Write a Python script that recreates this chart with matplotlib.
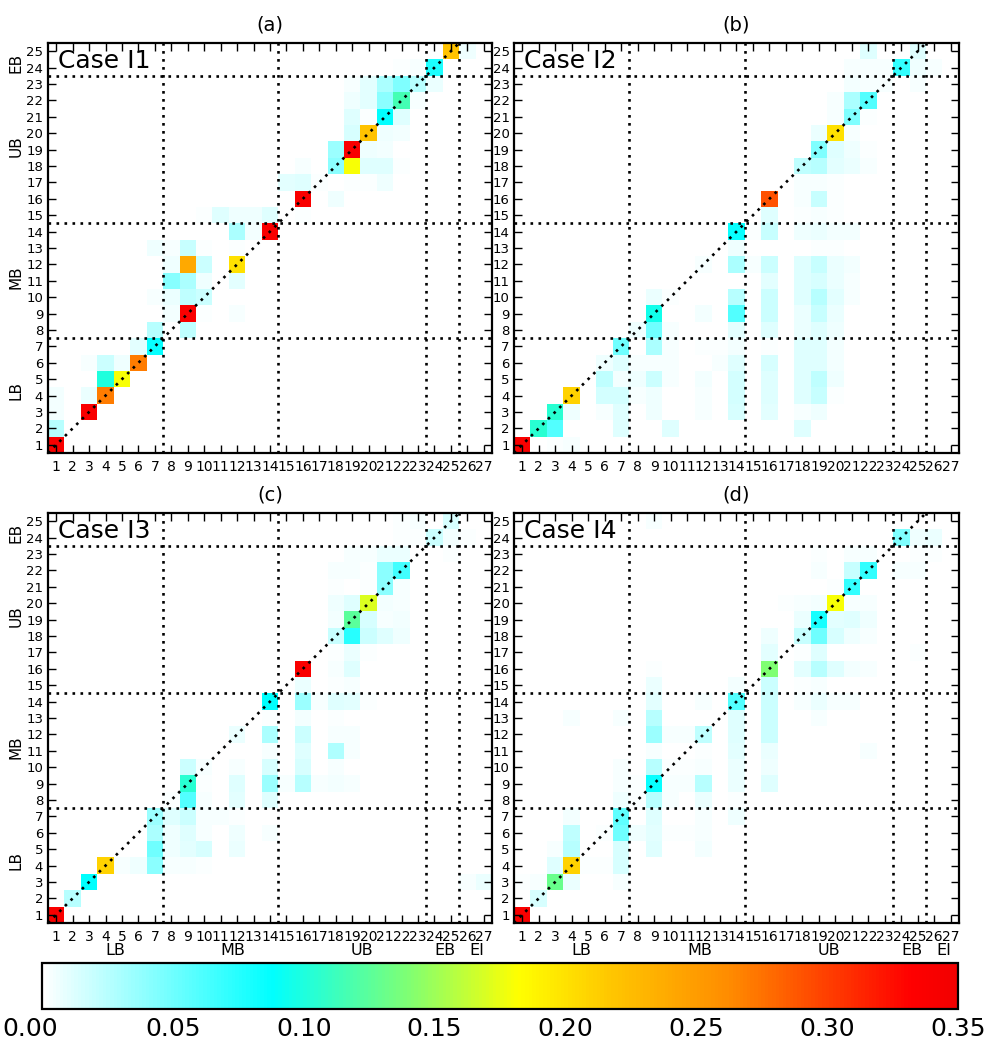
import numpy as np
import matplotlib
matplotlib.use('Agg')
import matplotlib.pyplot as plt
from matplotlib.colors import LinearSegmentedColormap
from matplotlib.transforms import ScaledTranslation

# (row, column, value) for the non zero cells, everything else is 0
case1_cells = [
    (25,25,.22),(25,26,.006),
    (24,22,.002),(24,23,.004),(24,24,.078),
    (23,19,.003),(23,20,.01),(23,21,.03),(23,22,.045),(23,23,.025),(23,24,.007),
    (22,19,.006),(22,20,.01),(22,21,.04),(22,22,.115),(22,23,.003),
    (21,19,.012),(21,20,.002),(21,21,.088),(21,22,.012),
    (20,19,.015),(20,20,.22),(20,21,.006),(20,22,.005),
    (19,18,.035),(19,19,.34),(19,20,.006),(19,21,.005),(19,22,.001),
    (18,16,.003),(18,18,.04),(18,19,.18),(18,20,.012),(18,21,.012),(18,22,.002),
    (17,15,.01),(17,16,.012),(17,17,.002),(17,19,.002),(17,20,.002),(17,21,.006),(17,22,.001),
    (16,16,.34),(16,18,.006),
    (15,10,.002),(15,11,.012),(15,12,.006),(15,13,.006),(15,14,.012),(15,16,.002),
    (14,12,.03),(14,13,.005),(14,14,.34),
    (13,7,.006),(13,8,.004),(13,9,.02),(13,10,.002),(13,12,.002),
    (12,8,.006),(12,9,.24),(12,10,.018),(12,12,.2),
    (11,8,.042),(11,9,.03),(11,10,.006),(11,12,.01),
    (10,7,.003),(10,8,.008),(10,9,.022),(10,10,.018),
    (9,7,.001),(9,8,.005),(9,9,.34),(9,10,.002),(9,12,.004),
    (8,7,.025),(8,8,.001),(8,9,.022),
    (7,6,.01),(7,7,.085),
    (6,2,.001),(6,3,.004),(6,4,.018),(6,5,.006),(6,6,.27),
    (5,3,.001),(5,4,.1),(5,5,.18),
    (4,1,.005),(4,3,.008),(4,4,.27),
    (3,1,.005),(3,3,.34),
    (2,1,.025),
    (1,1,.34),
]

case2_cells = [
    (25,22,.012),(25,25,.012),
    (24,21,.003),(24,22,.003),(24,23,.003),(24,24,.07),(24,25,.006),(24,26,.004),
    (23,21,.005),(23,22,.004),(23,23,.003),(23,25,.003),
    (22,20,.003),(22,21,.03),(22,22,.06),
    (21,20,.004),(21,21,.045),(21,22,.002),
    (20,19,.008),(20,20,.2),(20,21,.004),
    (19,19,.045),(19,20,.012),(19,21,.006),(19,22,.002),
    (18,18,.022),(18,19,.025),(18,20,.01),(18,21,.008),(18,22,.003),
    (17,18,.003),(17,19,.004),(17,20,.002),
    (16,16,.29),(16,18,.004),(16,19,.02),(16,20,.002),(16,21,.001),
    (15,16,.012),(15,18,.002),(15,19,.003),(15,20,.002),(15,21,.001),
    (14,14,.085),(14,15,.002),(14,16,.02),(14,18,.006),(14,19,.007),(14,20,.005),(14,21,.005),
    (13,12,.001),(13,14,.006),(13,19,.002),(13,20,.002),
    (12,12,.003),(12,14,.03),(12,15,.003),(12,16,.018),(12,18,.012),(12,19,.02),(12,20,.008),(12,21,.005),
    (11,12,.001),(11,14,.001),(11,16,.01),(11,18,.012),(11,19,.014),(11,20,.007),(11,21,.004),
    (10,9,.008),(10,10,.002),(10,14,.025),(10,16,.018),(10,18,.012),(10,19,.025),(10,20,.01),(10,21,.003),
    (9,9,.095),(9,12,.005),(9,14,.06),(9,16,.018),(9,18,.008),(9,19,.02),(9,20,.008),
    (8,8,.006),(8,9,.05),(8,10,.004),(8,14,.01),(8,16,.012),(8,18,.008),(8,19,.012),(8,20,.006),
    (7,7,.05),(7,9,.03),(7,10,.004),(7,12,.002),(7,13,.002),(7,14,.005),(7,16,.002),(7,18,.012),(7,19,.012),(7,20,.005),
    (6,6,.006),(6,7,.012),(6,8,.003),(6,9,.004),(6,10,.003),(6,13,.003),(6,14,.012),(6,16,.015),(6,18,.012),(6,19,.012),(6,20,.005),
    (5,6,.022),(5,7,.005),(5,8,.006),(5,9,.018),(5,10,.003),(5,12,.005),(5,14,.016),(5,16,.012),(5,18,.012),(5,19,.022),(5,20,.006),
    (4,4,.21),(4,6,.016),(4,7,.016),(4,8,.003),(4,9,.006),(4,12,.004),(4,14,.016),(4,16,.012),(4,18,.012),(4,19,.02),(4,20,.002),
    (3,3,.105),(3,4,.006),(3,6,.003),(3,7,.012),(3,9,.006),(3,12,.003),(3,14,.015),(3,16,.01),(3,18,.004),(3,19,.006),
    (2,2,.105),(2,3,.06),(2,4,.001),(2,7,.012),(2,10,.012),(2,18,.012),
    (1,1,.34),(1,2,.001),(1,3,.002),(1,4,.003),(1,5,.001),(1,7,.001),(1,8,.001),(1,9,.001),
]

case3_cells = [
    (25,22,.002),(25,23,.003),(25,25,.015),
    (24,22,.002),(24,23,.002),(24,24,.018),(24,25,.005),(24,26,.002),
    (23,19,.003),(23,20,.003),(23,21,.008),(23,22,.008),(23,25,.002),
    (22,18,.003),(22,19,.003),(22,20,.002),(22,21,.04),(22,22,.065),
    (21,18,.002),(21,20,.002),(21,21,.04),(21,22,.004),
    (20,18,.006),(20,19,.012),(20,20,.17),(20,21,.005),(20,22,.003),
    (19,18,.005),(19,19,.125),(19,20,.015),(19,21,.004),(19,22,.005),
    (18,18,.02),(18,19,.075),(18,20,.018),(18,21,.012),(18,22,.006),
    (17,18,.002),(17,19,.008),(17,20,.002),(17,21,.001),
    (16,16,.34),(16,18,.004),(16,19,.012),
    (15,16,.008),(15,18,.002),(15,19,.003),
    (14,14,.088),(14,16,.035),(14,17,.004),(14,18,.012),(14,19,.01),(14,20,.002),
    (13,14,.002),(13,16,.005),(13,18,.002),
    (12,12,.008),(12,14,.03),(12,16,.018),(12,18,.004),(12,19,.003),
    (11,14,.003),(11,16,.012),(11,18,.028),(11,19,.003),
    (10,9,.018),(10,10,.004),(10,12,.004),(10,14,.014),(10,16,.015),(10,18,.004),
    (9,9,.105),(9,10,.002),(9,12,.012),(9,14,.035),(9,15,.004),(9,16,.025),(9,17,.004),(9,18,.005),(9,19,.003),
    (8,8,.002),(8,9,.06),(8,10,.003),(8,12,.01),(8,14,.012),
    (7,7,.035),(7,8,.012),(7,9,.018),(7,10,.003),(7,11,.003),(7,12,.002),
    (6,7,.03),(6,8,.006),(6,9,.012),(6,10,.004),(6,12,.006),(6,14,.004),
    (5,7,.05),(5,8,.006),(5,9,.01),(5,10,.015),(5,12,.008),
    (4,4,.21),(4,5,.004),(4,6,.006),(4,7,.04),(4,8,.004),(4,9,.003),(4,10,.002),
    (3,3,.088),(3,26,.004),(3,27,.008),
    (2,2,.025),
    (1,1,.34),
]

case4_cells = [
    (25,9,.003),
    (24,16,.001),(24,17,.001),(24,18,.001),(24,19,.001),(24,24,.045),(24,25,.006),(24,26,.008),
    (23,19,.002),(23,21,.003),(23,22,.003),(23,25,.002),(23,26,.002),
    (22,18,.001),(22,19,.003),(22,21,.02),(22,22,.07),(22,24,.003),(22,25,.003),
    (21,20,.002),(21,21,.07),
    (20,17,.002),(20,18,.004),(20,19,.005),(20,20,.18),(20,21,.003),(20,22,.003),
    (19,18,.008),(19,19,.08),(19,20,.01),(19,21,.012),(19,22,.006),
    (18,16,.006),(18,18,.02),(18,19,.05),(18,20,.014),(18,21,.006),(18,22,.003),
    (17,14,.001),(17,16,.01),(17,18,.002),(17,19,.012),(17,25,.002),
    (16,9,.002),(16,16,.14),(16,18,.01),(16,19,.025),(16,20,.012),(16,21,.005),(16,22,.004),
    (15,9,.008),(15,14,.005),(15,16,.018),(15,18,.002),(15,19,.004),
    (14,9,.01),(14,12,.004),(14,14,.06),(14,16,.018),(14,18,.004),(14,19,.007),(14,20,.003),(14,21,.003),
    (13,4,.003),(13,7,.003),(13,9,.025),(13,14,.012),(13,16,.018),(13,18,.001),(13,19,.004),
    (12,9,.035),(12,10,.004),(12,11,.004),(12,12,.022),(12,14,.012),(12,16,.018),
    (11,9,.003),(11,12,.002),(11,14,.01),(11,16,.007),(11,22,.004),
    (10,7,.003),(10,9,.025),(10,10,.002),(10,11,.002),(10,12,.004),(10,14,.008),(10,16,.006),
    (9,7,.004),(9,8,.002),(9,9,.085),(9,10,.004),(9,11,.003),(9,12,.025),(9,14,.008),(9,16,.012),
    (8,7,.006),(8,8,.002),(8,9,.025),(8,10,.003),(8,12,.008),(8,14,.002),
    (7,4,.005),(7,7,.055),(7,9,.012),(7,12,.004),(7,14,.006),
    (6,4,.022),(6,6,.002),(6,7,.05),(6,8,.006),(6,9,.01),(6,10,.002),(6,11,.002),(6,12,.003),
    (5,3,.004),(5,4,.025),(5,7,.015),(5,9,.012),(5,12,.005),
    (4,3,.012),(4,4,.21),(4,5,.002),(4,6,.002),(4,7,.015),
    (3,1,.002),(3,2,.003),(3,3,.13),(3,4,.008),(3,7,.004),
    (2,2,.015),
    (1,1,.34),
]

titles = ['(a)', '(b)', '(c)', '(d)']
case_names = ['Case I1', 'Case I2', 'Case I3', 'Case I4']
all_cells = [case1_cells, case2_cells, case3_cells, case4_cells]
x_ticks = list(range(1, 28))
y_ticks = list(range(1, 26))
x_groups = ['LB', 'MB', 'UB', 'EB', 'EI']
x_group_pos = [4.6, 11.75, 19.6, 24.65, 26.6]
y_groups = ['LB', 'MB', 'UB', 'EB']
y_group_pos = [4.3, 11.2, 19.2, 24.3]
x_bounds = [7.5, 14.5, 23.5, 25.5]
y_bounds = [7.5, 14.5, 23.5]
cbar_ticks = [0.0, 0.05, 0.10, 0.15, 0.20, 0.25, 0.30, 0.35]

W, H = 991, 1043
# left, right, top, bottom in pixels
boxes = [(48, 492, 43, 453), (514, 959, 43, 453),
         (48, 492, 513, 923), (514, 959, 513, 923)]

cmap = LinearSegmentedColormap.from_list('wcyr', [
    (0.0, (1, 1, 1)),
    (0.25, (0, 1, 1)),
    (0.40, (0.5, 1, 0.45)),
    (0.52, (1, 1, 0)),
    (0.62, (1, 0.78, 0)),
    (0.75, (1, 0.55, 0)),
    (0.85, (1, 0.27, 0)),
    (0.95, (1, 0, 0)),
    (1.0, (0.95, 0, 0)),
])
dots = (0, (1, 2.03))


def makeAxes(box):
    l, r, t, b = box
    return plt.gcf().add_axes([l / W, 1 - b / H, (r - l) / W, (b - t) / H])


fig = plt.figure(figsize=(W / 100, H / 100), dpi=100)

for i in range(4):
    ax = makeAxes(boxes[i])
    grid = np.zeros((len(y_ticks), len(x_ticks)))
    for row, col, val in all_cells[i]:
        grid[row - 1, col - 1] = val
    im = ax.imshow(grid, origin='lower', cmap=cmap, vmin=0, vmax=0.35, aspect='auto',
                   interpolation='nearest', extent=(0.5, 27.5, 0.5, 25.5))

    for v in x_bounds:
        ax.axvline(v, color='k', lw=1.9, ls=dots)
    for v in y_bounds:
        ax.axhline(v, color='k', lw=1.9, ls=dots)
    ax.plot([0.5, 25.5], [0.5, 25.5], color='k', lw=1.9, ls=dots)

    ax.set_xlim(0.5, 27.5)
    ax.set_ylim(0.5, 25.5)
    ax.set_xticks(x_ticks)
    ax.set_yticks(y_ticks)
    ax.tick_params(direction='in', length=5.5, width=1, top=True, right=True,
                   labelsize=10, pad=5)
    ax.tick_params(axis='y', labelsize=9.5, pad=3.5)
    if i % 2 == 1:
        ax.tick_params(axis='y', pad=3)
    for s in ax.spines.values():
        s.set_linewidth(1.6)

    ax.set_title(titles[i], fontsize=14, pad=9)
    ax.text(0.022, 0.985, case_names[i], transform=ax.transAxes, fontsize=18,
            va='top', ha='left')

    if i % 2 == 0:
        for name, pos in zip(y_groups, y_group_pos):
            ax.text(-1.45, pos, name, rotation=90, fontsize=11, ha='center', va='center')
    if i >= 2:
        for name, pos in zip(x_groups, x_group_pos):
            ax.text(pos, -1.15, name, fontsize=11.5, ha='center', va='center')

cax = makeAxes((42, 958, 963, 1009))
cb = fig.colorbar(im, cax=cax, orientation='horizontal', ticks=cbar_ticks)
cb.ax.set_xticklabels(['%.2f' % t for t in cbar_ticks])
cb.ax.tick_params(length=0, labelsize=18, pad=6)
cb.outline.set_linewidth(1.6)
# first label sits left of the bar in the original
first = cb.ax.get_xticklabels()[0]
first.set_transform(first.get_transform() + ScaledTranslation(-12 / 100, 0, fig.dpi_scale_trans))

fig.savefig('out.png', dpi=100)
